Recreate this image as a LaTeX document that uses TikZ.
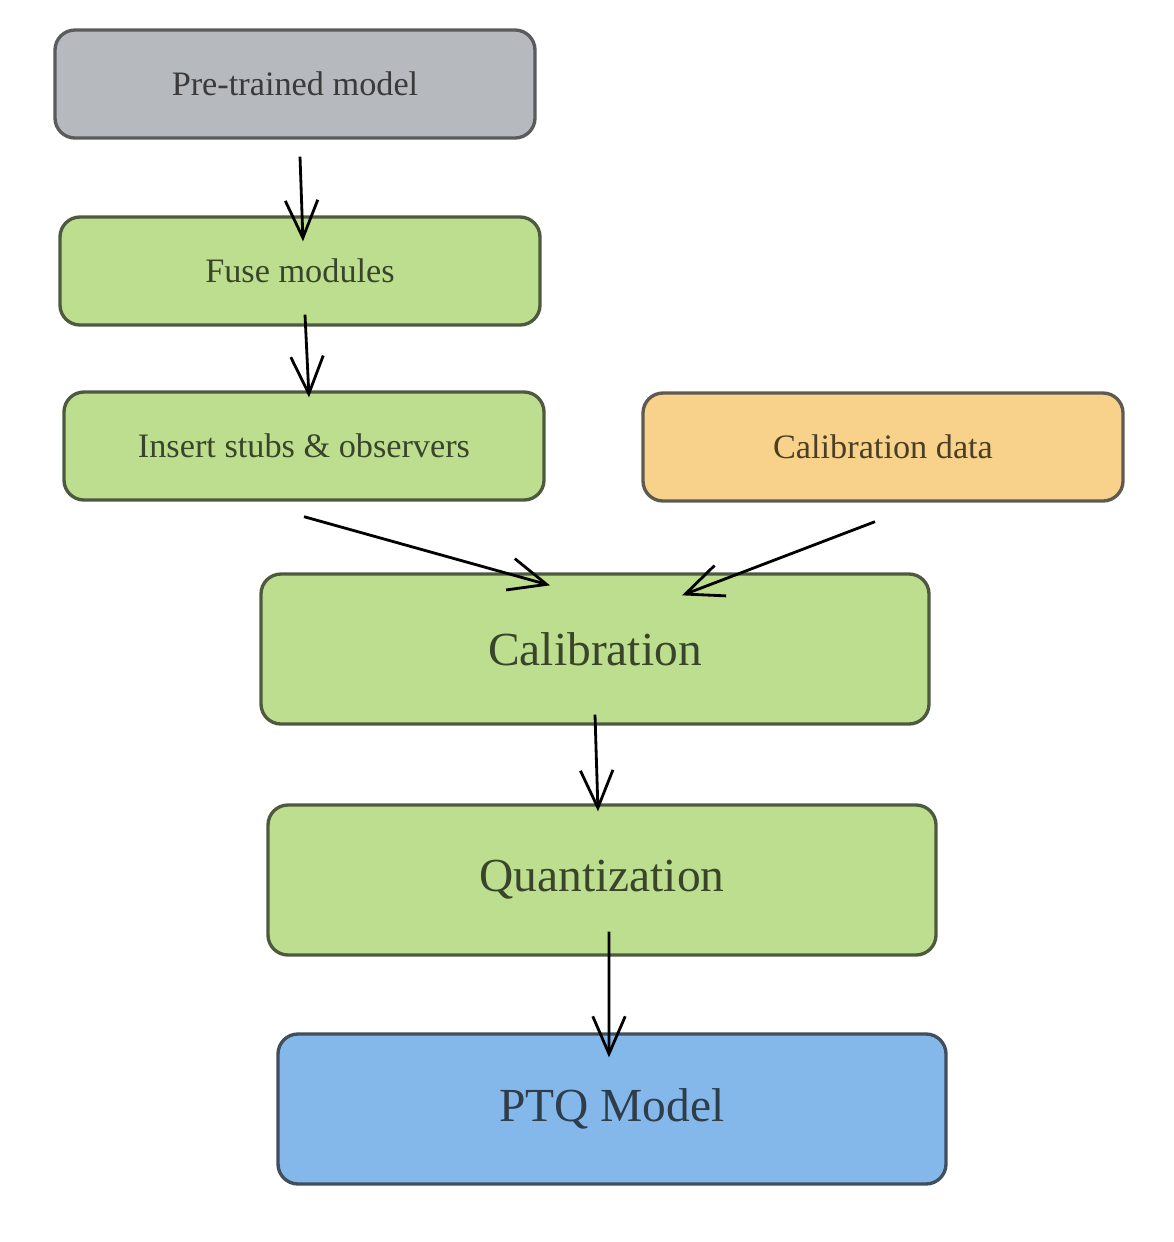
\documentclass[tikz,border=0pt]{standalone}
\usepackage{fontspec}
\setmainfont{Liberation Serif}
\usetikzlibrary{arrows.meta,positioning,calc}
\definecolor{greyfill}{HTML}{B6B9BD}
\definecolor{greyline}{HTML}{5B5B5B}
\definecolor{greytext}{HTML}{3A3A3A}
\definecolor{greenfill}{HTML}{BEDE8F}
\definecolor{greenline}{HTML}{4D5A3F}
\definecolor{greentext}{HTML}{38452A}
\definecolor{orangefill}{HTML}{F8D28B}
\definecolor{orangeline}{HTML}{5E5A52}
\definecolor{orangetext}{HTML}{4A3F24}
\definecolor{bluefill}{HTML}{85B8EA}
\definecolor{blueline}{HTML}{414E5C}
\definecolor{bluetext}{HTML}{2F3C4A}
\begin{document}
\begin{tikzpicture}[
    mybox/.style={
    rectangle,
    rounded corners=0.4cm,
    line width=1.9pt,
    minimum width=9.6cm,
    minimum height=2.16cm,
    font=\fontsize{19.5}{23}\selectfont},
    bigbox/.style={
    mybox,
    minimum width=13.36cm,
    minimum height=3cm,
    font=\fontsize{27}{32}\selectfont},
    greybox/.style={fill=greyfill, draw=greyline, text=greytext},
    greenbox/.style={fill=greenfill, draw=greenline, text=greentext},
    orangebox/.style={fill=orangefill, draw=orangeline, text=orangetext},
    bluebox/.style={fill=bluefill, draw=blueline, text=bluetext},
    myarrow/.style={-{Straight Barb[length=7.5mm,width=6.5mm]}, line width=1.6pt}
    ]
    \useasboundingbox (0,0) rectangle (23.48,-24.84);

    \node[mybox, greybox] (pre) at (5.9,-1.68) {Pre-trained model};
    \node[mybox, greenbox] (fuse) at (6.0,-5.42) {Fuse modules};
    \node[mybox, greenbox] (ins) at (6.08,-8.92) {Insert stubs \& observers};
    \node[mybox, orangebox] (cdata) at (17.66,-8.94) {Calibration data};
    \node[bigbox, greenbox] (calib) at (11.9,-12.98) {Calibration};
    \node[bigbox, greenbox] (quant) at (12.04,-17.6) {Quantization};
    \node[bigbox, bluebox] (ptq) at (12.24,-22.18) {PTQ Model};

    \draw[myarrow] ($(pre.south)+(0.1,-0.34)$) -- ($(fuse.north)+(0.06,-0.52)$);
    \draw[myarrow] ($(fuse.south)+(0.1,0.24)$) -- ($(ins.north)+(0.1,-0.14)$);
    \draw[myarrow] ($(ins.south)+(0,-0.3)$) -- ($(calib.north)+(-0.9,-0.26)$);
    \draw[myarrow] ($(cdata.south)+(-0.16,-0.38)$) -- ($(calib.north)+(1.74,-0.46)$);
    \draw[myarrow] ($(calib.south)+(0,0.22)$) -- ($(quant.north)+(-0.08,-0.16)$);
    \draw[myarrow] ($(quant.south)+(0.14,0.5)$) -- ($(ptq.north)+(-0.06,-0.5)$);
\end{tikzpicture}
\end{document}
